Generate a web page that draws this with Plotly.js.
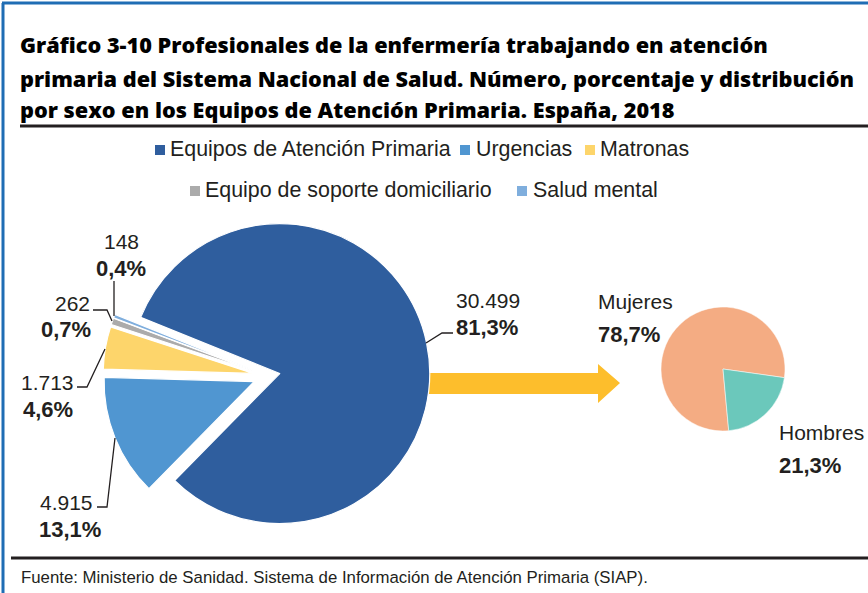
<!DOCTYPE html>
<html>
<head>
<meta charset="utf-8">
<script src="https://cdn.plot.ly/plotly-3.0.1.min.js"></script>
<style>
html,body{margin:0;padding:0;background:#fff;}
#chart{width:868px;height:593px;}
</style>
</head>
<body>
<div id="chart"></div>
<script>
// ---- Data ----
const categories = ['Equipos de Atención Primaria', 'Urgencias', 'Matronas', 'Equipo de soporte domiciliario', 'Salud mental'];
const values = [30499, 4915, 1713, 262, 148];
const percents = [81.3, 13.1, 4.6, 0.7, 0.4];
const sexLabels = ['Mujeres', 'Hombres'];
const sexPercents = [78.7, 21.3];
const titleLines = [
  'Gráfico 3-10 Profesionales de la enfermería trabajando en atención',
  'primaria del Sistema Nacional de Salud. Número, porcentaje y distribución',
  'por sexo en los Equipos de Atención Primaria. España, 2018'
];
const sourceText = 'Fuente: Ministerio de Sanidad. Sistema de Información de Atención Primaria (SIAP).';

// ---- Styles ----
const catColors = ['#2F5E9E', '#5096D1', '#FDD56B', '#ABABAB', '#7FAEDD'];
const sexColors = ['#F4AC83', '#6BC8BB'];
const W = 868, H = 593;
const px = x => x / W;
const py = y => 1 - y / H;
const FONT = 'Liberation Sans, Arial, Helvetica, sans-serif';
const TFONT = 'Open Sans, Liberation Sans, Arial, sans-serif';
const TXT = '#231F20';

const fmtInt = v => String(v).replace(/\B(?=(\d{3})+(?!\d))/g, '.');
const fmtPct = p => p.toFixed(1).replace('.', ',') + '%';

const traces = [
  {
    type: 'pie',
    labels: categories,
    values: values,
    sort: false,
    direction: 'clockwise',
    rotation: -68,
    pull: [0.08, 0.1, 0.1, 0.1, 0.1],
    marker: {colors: catColors, line: {color: '#ffffff', width: 1.2}},
    textinfo: 'none',
    hoverinfo: 'label+value+percent',
    showlegend: false,
    domain: {x: [px(103), px(433)], y: [py(541), py(211)]}
  },
  {
    type: 'pie',
    labels: sexLabels,
    values: sexPercents,
    sort: false,
    direction: 'clockwise',
    rotation: 174.7,
    marker: {colors: sexColors, line: {color: '#ffffff', width: 0.5}},
    textinfo: 'none',
    showlegend: false,
    domain: {x: [px(661), px(785)], y: [py(431), py(307)]}
  }
];

const annotations = [];
const shapes = [];

// Title lines
const titleY = [44.5, 78, 109.5];
titleLines.forEach((t, i) => {
  annotations.push({text: t, x: px(18), y: py(titleY[i]), xref: 'paper', yref: 'paper',
    xanchor: 'left', yanchor: 'middle', showarrow: false, font: {family: TFONT, size: 21.7, weight: 800, color: '#000'}});
});
// Source
annotations.push({text: sourceText, x: px(19), y: py(577), xref: 'paper', yref: 'paper',
  xanchor: 'left', yanchor: 'middle', showarrow: false, font: {family: FONT, size: 16.8, color: TXT}});

// Frame and rules
shapes.push({type: 'line', xref: 'paper', yref: 'paper', x0: px(3), x1: px(3), y0: py(3), y1: py(593), line: {color: '#1F6DB4', width: 3}});
shapes.push({type: 'line', xref: 'paper', yref: 'paper', x0: px(2), x1: px(868), y0: py(3), y1: py(3), line: {color: '#1F6DB4', width: 3}});
shapes.push({type: 'line', xref: 'paper', yref: 'paper', x0: px(20), x1: px(868), y0: py(126), y1: py(126), line: {color: '#231F20', width: 3}});
shapes.push({type: 'line', xref: 'paper', yref: 'paper', x0: px(11), x1: px(868), y0: py(558), y1: py(558), line: {color: '#231F20', width: 3}});

// Legend (manual, two centred rows)
const legendItems = [
  {i: 0, sx: 155, tx: 170, y: 150},
  {i: 1, sx: 460, tx: 476, y: 150},
  {i: 2, sx: 585, tx: 600, y: 150},
  {i: 3, sx: 190, tx: 205, y: 191},
  {i: 4, sx: 517, tx: 533, y: 191}
];
legendItems.forEach(it => {
  shapes.push({type: 'rect', xref: 'paper', yref: 'paper', x0: px(it.sx), x1: px(it.sx + 10),
    y0: py(it.y + 5), y1: py(it.y - 5), fillcolor: catColors[it.i], line: {width: 0}});
  annotations.push({text: categories[it.i], x: px(it.tx - 2), y: py(it.y - 1), xref: 'paper', yref: 'paper',
    xanchor: 'left', yanchor: 'middle', showarrow: false, font: {family: FONT, size: 21.4, color: TXT}});
});

// Slice labels (value + bold percent)
const labelPos = [
  {x: 454, y: 300, y2: 327, anchor: 'left'},
  {x: 95, y: 502, y2: 529, anchor: 'right', x2: 103},
  {x: 76, y: 382, y2: 409, anchor: 'right', x2: 75},
  {x: 92, y: 303, y2: 329, anchor: 'right', x2: 93},
  {x: 141, y: 241, y2: 268, anchor: 'right', x2: 148}
];
labelPos.forEach((p, i) => {
  annotations.push({text: fmtInt(values[i]), x: px(p.x), y: py(p.y), xref: 'paper', yref: 'paper',
    xanchor: p.anchor, yanchor: 'middle', showarrow: false, font: {family: FONT, size: 21, color: TXT}});
  annotations.push({text: '<b>' + fmtPct(percents[i]) + '</b>', x: px(p.x2 !== undefined ? p.x2 : p.x), y: py(p.y2), xref: 'paper', yref: 'paper',
    xanchor: p.anchor, yanchor: 'middle', showarrow: false, font: {family: FONT, size: 22, color: TXT}});
});
// Sex labels
annotations.push({text: sexLabels[0], x: px(596), y: py(301), xref: 'paper', yref: 'paper', xanchor: 'left', yanchor: 'middle', showarrow: false, font: {family: FONT, size: 21, color: TXT}});
annotations.push({text: '<b>' + fmtPct(sexPercents[0]) + '</b>', x: px(596), y: py(334), xref: 'paper', yref: 'paper', xanchor: 'left', yanchor: 'middle', showarrow: false, font: {family: FONT, size: 22, color: TXT}});
annotations.push({text: sexLabels[1], x: px(777), y: py(432), xref: 'paper', yref: 'paper', xanchor: 'left', yanchor: 'middle', showarrow: false, font: {family: FONT, size: 21, color: TXT}});
annotations.push({text: '<b>' + fmtPct(sexPercents[1]) + '</b>', x: px(777), y: py(465), xref: 'paper', yref: 'paper', xanchor: 'left', yanchor: 'middle', showarrow: false, font: {family: FONT, size: 22, color: TXT}});

// Leader lines
const leaders = [
  [[453, 333], [442, 333], [426, 343]],
  [[97, 507], [107, 507], [115, 438]],
  [[77, 387], [87, 387], [105, 349]],
  [[93, 310], [107, 310], [112, 321]],
  [[114, 281], [114, 316]]
];
leaders.forEach(pts => {
  const d = pts.map((p, k) => (k ? 'L' : 'M') + px(p[0]) + ',' + py(p[1])).join(' ');
  shapes.push({type: 'path', xref: 'paper', yref: 'paper', path: d, line: {color: TXT, width: 1.3}});
});

// Arrow
const arrowPts = [[428, 373], [598, 373], [598, 364], [620, 383], [598, 403], [598, 394], [428, 394]];
shapes.push({type: 'path', xref: 'paper', yref: 'paper',
  path: arrowPts.map((p, k) => (k ? 'L' : 'M') + px(p[0]) + ',' + py(p[1])).join(' ') + ' Z',
  fillcolor: '#FDBE2C', line: {width: 0}, layer: 'below'});

const layout = {
  width: W, height: H,
  margin: {l: 0, r: 0, t: 0, b: 0},
  paper_bgcolor: '#ffffff',
  plot_bgcolor: '#ffffff',
  showlegend: false,
  annotations: annotations,
  shapes: shapes,
  font: {family: FONT, color: TXT}
};

Plotly.newPlot('chart', traces, layout, {displayModeBar: false, staticPlot: true});
</script>
</body>
</html>
